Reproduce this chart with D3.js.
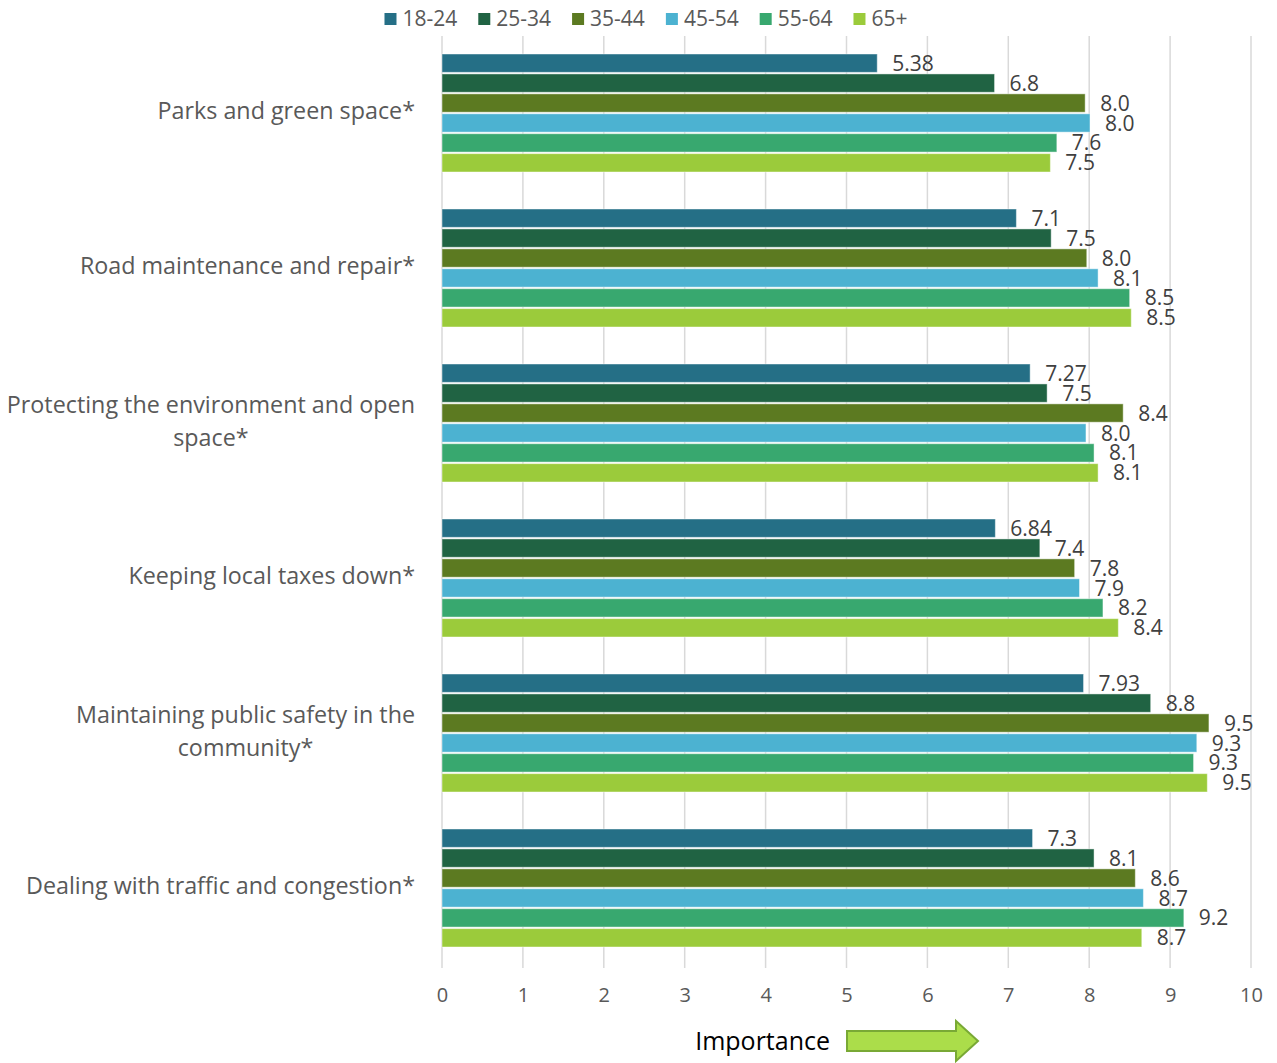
<!DOCTYPE html>
<html>
<head>
<meta charset="utf-8">
<script src="https://cdn.jsdelivr.net/npm/d3@7"></script>
<style>
  html, body { margin: 0; padding: 0; background: #ffffff; }
  svg { display: block; font-family: "Open Sans", "Noto Sans", sans-serif; }
</style>
</head>
<body>
<svg id="chart" width="1277" height="1063"></svg>
<script>
// Issues rated for importance, by age group (0–10 scale)
const categories = [
  "Parks and green space*",
  "Road maintenance and repair*",
  "Protecting the environment and open space*",
  "Keeping local taxes down*",
  "Maintaining public safety in the community*",
  "Dealing with traffic and congestion*"
];
const seriesNames = ["18-24", "25-34", "35-44", "45-54", "55-64", "65+"];
const seriesColors = ["#256f86", "#206343", "#5c7a21", "#4cb2d1", "#38a86f", "#9bcb3b"];

const age18to24 = [5.38, 7.1, 7.27, 6.84, 7.93, 7.3];
const age25to34 = [6.83, 7.53, 7.48, 7.39, 8.76, 8.06];
const age35to44 = [7.95, 7.97, 8.42, 7.82, 9.48, 8.57];
const age45to54 = [8.01, 8.11, 7.96, 7.88, 9.33, 8.67];
const age55to64 = [7.60, 8.50, 8.06, 8.17, 9.29, 9.17];
const age65plus = [7.52, 8.52, 8.11, 8.36, 9.46, 8.65];

const xTicks = [0, 1, 2, 3, 4, 5, 6, 7, 8, 9, 10];
const axisTitle = "Importance";

const seriesValues = [age18to24, age25to34, age35to44, age45to54, age55to64, age65plus];

// 18-24 labels use general number format, the rest one decimal place
const labelFormats = [d3.format(".3~g"), d3.format(".1f"), d3.format(".1f"),
                      d3.format(".1f"), d3.format(".1f"), d3.format(".1f")];

const rows = categories.map((c, ci) => ({
  category: c,
  bars: seriesNames.map((s, si) => ({ series: s, si, value: seriesValues[si][ci] }))
}));

const svg = d3.select("#chart");
const plot = { left: 442, right: 1251, top: 36, bottom: 966 };

const x = d3.scaleLinear().domain([0, 10]).range([plot.left, plot.right]);
const y0 = d3.scaleBand().domain(categories).range([plot.top, plot.bottom]).padding(0);
const y1 = d3.scaleBand().domain(seriesNames).range([18, 136]).paddingInner(0.08).paddingOuter(0);
const color = d3.scaleOrdinal().domain(seriesNames).range(seriesColors);

// Vertical gridlines
svg.append("g")
  .selectAll("line")
  .data(xTicks)
  .join("line")
  .attr("x1", d => x(d)).attr("x2", d => x(d))
  .attr("y1", plot.top).attr("y2", plot.bottom + 2)
  .attr("stroke", "#d9d9d9")
  .attr("stroke-width", 1.5);

// X axis tick labels
const xAxis = d3.axisBottom(x).tickValues(xTicks).tickSize(0).tickPadding(0).tickFormat(d3.format("d"));
const xg = svg.append("g").attr("transform", `translate(0, ${plot.bottom + 22})`).call(xAxis);
xg.select(".domain").remove();
xg.selectAll("text")
  .attr("fill", "#595959")
  .style("font-size", "20px")
  .style("font-family", "'Open Sans', sans-serif")
  .attr("dy", "0.71em");

// Bars and value labels
const groups = svg.append("g")
  .selectAll("g")
  .data(rows)
  .join("g")
  .attr("transform", d => `translate(0, ${y0(d.category)})`);

groups.selectAll("rect")
  .data(d => d.bars)
  .join("rect")
  .attr("x", x(0))
  .attr("y", d => y1(d.series))
  .attr("width", d => x(d.value) - x(0))
  .attr("height", y1.bandwidth())
  .attr("fill", d => color(d.series))
  .attr("stroke", "#ffffff")
  .attr("stroke-opacity", 0.45)
  .attr("stroke-width", 1);

groups.selectAll("text.value")
  .data(d => d.bars)
  .join("text")
  .attr("class", "value")
  .attr("x", d => x(d.value) + 15)
  .attr("y", d => y1(d.series) + y1.bandwidth() / 2)
  .attr("dy", "0.36em")
  .attr("fill", "#404040")
  .style("font-size", "21px")
  .text(d => labelFormats[d.si](d.value));

// Category labels, wrapped and right aligned as a centred block
const labelRight = 415;
const labelMaxWidth = 422;
const lineHeight = 33;
const catG = svg.append("g");
rows.forEach(r => {
  const t = catG.append("text")
    .attr("fill", "#595959")
    .style("font-size", "23.3px")
    .attr("text-anchor", "middle");
  const words = r.category.split(" ");
  const lines = [];
  let line = [];
  const probe = t.append("tspan");
  words.forEach(w => {
    const trial = line.concat([w]).join(" ");
    probe.text(trial);
    if (probe.node().getComputedTextLength() > labelMaxWidth && line.length) {
      lines.push(line.join(" "));
      line = [w];
    } else {
      line.push(w);
    }
  });
  lines.push(line.join(" "));
  probe.remove();
  // width of the widest line sets the block centre
  let widest = 0;
  lines.forEach(l => {
    const m = t.append("tspan").text(l);
    widest = Math.max(widest, m.node().getComputedTextLength());
    m.remove();
  });
  const cx = labelRight - widest / 2;
  const cy = y0(r.category) + 18 + (136 - 18) / 2 - 2;
  const firstY = cy - (lines.length - 1) * lineHeight / 2;
  lines.forEach((l, i) => {
    t.append("tspan")
      .attr("x", cx)
      .attr("y", firstY + i * lineHeight)
      .attr("dy", "0.35em")
      .text(l);
  });
});

// Legend, centred across the top
const legend = svg.append("g");
const items = legend.selectAll("g")
  .data(seriesNames)
  .join("g");
items.append("rect")
  .attr("width", 12).attr("height", 12)
  .attr("y", -6)
  .attr("fill", d => color(d));
items.append("text")
  .attr("x", 18)
  .attr("dy", "0.35em")
  .attr("fill", "#595959")
  .style("font-size", "21px")
  .text(d => d);
let lx = 0;
items.each(function () {
  const w = d3.select(this).select("text").node().getComputedTextLength();
  d3.select(this).attr("transform", `translate(${lx}, 0)`);
  lx += 18 + w + 21;
});
const legendWidth = lx - 21;
legend.attr("transform", `translate(${646 - legendWidth / 2}, 19)`);

// Axis title with arrow
const titleG = svg.append("g");
titleG.append("text")
  .attr("x", 830)
  .attr("y", 1041)
  .attr("dy", "0.35em")
  .attr("text-anchor", "end")
  .attr("fill", "#000000")
  .style("font-size", "25px")
  .text(axisTitle);

const ax0 = 847, ax1 = 978, headX = 956, ay = 1041;
const arrowPts = [
  [ax0, ay - 10], [headX, ay - 10], [headX, ay - 20], [ax1, ay],
  [headX, ay + 20], [headX, ay + 10], [ax0, ay + 10]
];
titleG.append("path")
  .attr("d", d3.line()(arrowPts) + "Z")
  .attr("fill", "#abdd4a")
  .attr("stroke", "#79a935")
  .attr("stroke-width", 2)
  .attr("stroke-linejoin", "miter");
</script>
</body>
</html>
